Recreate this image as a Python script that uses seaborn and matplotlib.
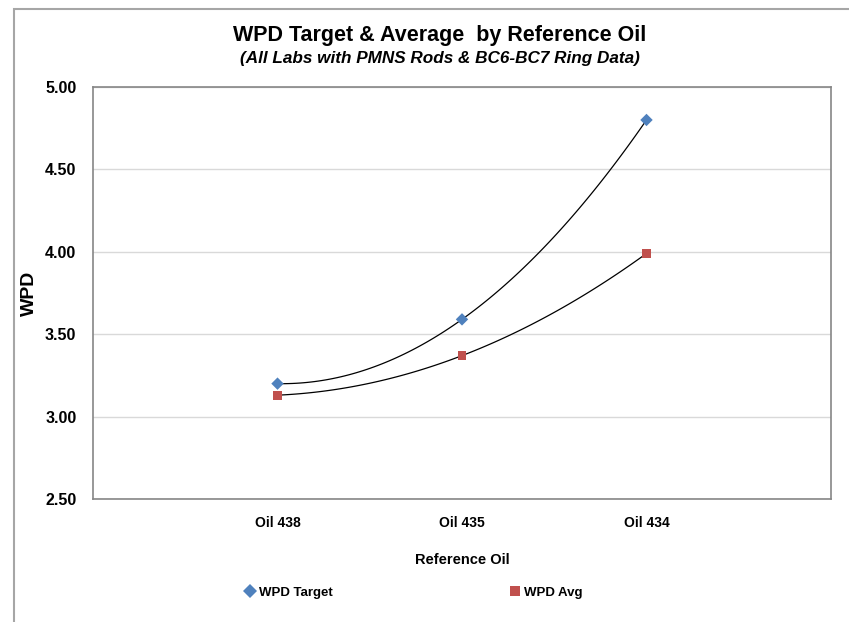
import numpy as np
import pandas as pd
import matplotlib
matplotlib.use("Agg")
import matplotlib.pyplot as plt
from matplotlib.patches import Rectangle
import seaborn as sns

# chart data
oil_labels = ["Oil 438", "Oil 435", "Oil 434"]
wpd_target = [3.20, 3.59, 4.80]
wpd_avg = [3.13, 3.37, 3.99]
y_ticks = [2.50, 3.00, 3.50, 4.00, 4.50, 5.00]

x_pos = np.arange(1, len(oil_labels) + 1)

df = pd.DataFrame({
    "x": np.concatenate([x_pos, x_pos]),
    "WPD": wpd_target + wpd_avg,
    "Series": ["WPD Target"] * 3 + ["WPD Avg"] * 3,
})

sns.set_style("white")
plt.rcParams["font.family"] = ["Liberation Sans", "DejaVu Sans"]
plt.rcParams["font.weight"] = "bold"
plt.rcParams["text.color"] = "black"
plt.rcParams["xtick.color"] = "black"
plt.rcParams["ytick.color"] = "black"
plt.rcParams["axes.labelcolor"] = "black"

fig = plt.figure(figsize=(8.49, 6.22), dpi=100)
ax = fig.add_axes([93 / 849, 123 / 622, 738 / 849, 412 / 622])

colors = {"WPD Target": "#4F81BD", "WPD Avg": "#C0504D"}
markers = {"WPD Target": "D", "WPD Avg": "s"}

# polynomial (order 2) trendlines, like the Excel chart
for name in ["WPD Target", "WPD Avg"]:
    sub = df[df["Series"] == name]
    sns.regplot(data=sub, x="x", y="WPD", order=2, ci=None, scatter=False,
                truncate=True, ax=ax,
                line_kws={"color": "black", "lw": 0.9, "zorder": 2})

sns.scatterplot(data=df, x="x", y="WPD", hue="Series", style="Series",
                palette=colors, markers=markers, s=40, linewidth=0,
                ax=ax, zorder=3)

ax.set_xlim(0, 4)
ax.set_ylim(2.5, 5.0)
ax.set_xticks([0, 1, 2, 3, 4])
ax.set_xticklabels([""] + oil_labels + [""], fontsize=10, fontweight="bold")
ax.set_yticks(y_ticks)
ax.set_yticklabels([f"{v:.2f}" for v in y_ticks], fontsize=11.5,
                   fontweight="bold")
ax.tick_params(axis="both", direction="out", length=5, width=0.8,
               color="#868686", pad=7)
ax.yaxis.grid(True, color="#D9D9D9", lw=1)
ax.set_axisbelow(True)
for sp in ax.spines.values():
    sp.set_color("#868686")
    sp.set_linewidth(1.2)

ax.set_xlabel("Reference Oil", fontsize=10.5, fontweight="bold", labelpad=17)
ax.set_ylabel("WPD", fontsize=14, fontweight="bold", labelpad=5)

fig.text(440 / 849, 1 - 36 / 622, "WPD Target & Average  by Reference Oil",
         ha="center", va="center", fontsize=15.5, fontweight="bold")
fig.text(440 / 849, 1 - 58 / 622, "(All Labs with PMNS Rods & BC6-BC7 Ring Data)",
         ha="center", va="center", fontsize=12.3, fontweight="bold",
         style="italic")

sns.move_legend(ax, "center", bbox_to_anchor=(0.4336, -0.228), ncol=2,
                frameon=False, title=None, fontsize=9.5, columnspacing=13.3,
                handlelength=1.0, handletextpad=0.2, markerscale=1.1)

# outer chart frame (only left and top edges are visible in the crop)
fig.add_artist(Rectangle((14 / 849, -0.1), 1.2, 1 - 9 / 622 + 0.1,
                         transform=fig.transFigure, fill=False,
                         edgecolor="#A6A6A6", lw=1.5))

fig.savefig("out.png", dpi=100)
